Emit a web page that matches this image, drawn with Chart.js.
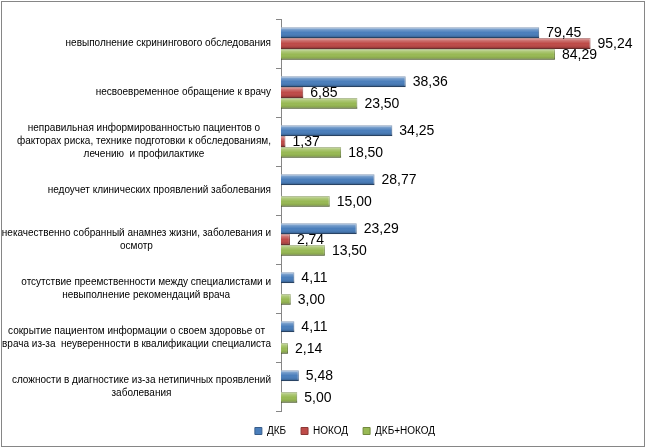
<!DOCTYPE html>
<html>
<head>
<meta charset="utf-8">
<script src="https://cdn.jsdelivr.net/npm/chart.js@4.4.0/dist/chart.umd.min.js"></script>
<style>
    body { margin: 0; background: #fff; }
    #wrap { width: 646px; height: 448px; }
</style>
</head>
<body>
<div id="wrap"><canvas id="chart" width="646" height="448"></canvas></div>
<script>
// Categories (multi-line labels as in the original)
const categories = [
    ['невыполнение скринингового обследования'],
    ['несвоевременное обращение к врачу'],
    ['неправильная информированностью пациентов о', 'факторах риска, технике подготовки к обследованиям,', 'лечению  и профилактике'],
    ['недоучет клинических проявлений заболевания'],
    ['некачественно собранный анамнез жизни, заболевания и', 'осмотр'],
    ['отсутствие преемственности между специалистами и', 'невыполнение рекомендаций врача'],
    ['сокрытие пациентом информации о своем здоровье от', 'врача из-за  неуверенности в квалификации специалиста'],
    ['сложности в диагностике из-за нетипичных проявлений', 'заболевания']
];

const seriesNames = ['ДКБ', 'НОКОД', 'ДКБ+НОКОД'];

const dkb = [79.45, 38.36, 34.25, 28.77, 23.29, 4.11, 4.11, 5.48];
const nokod = [95.24, 6.85, 1.37, null, 2.74, null, null, null];
const dkbNokod = [84.29, 23.50, 18.50, 15.00, 13.50, 3.00, 2.14, 5.00];

const LABEL_FONT = '10px "Liberation Sans", Arial, sans-serif';
const VALUE_FONT = '14px "Liberation Sans", Arial, sans-serif';

// Frame and white background
const framePlugin = {
    id: 'frame',
    beforeDraw(chart) {
        const c = chart.ctx;
        c.save();
        c.fillStyle = '#ffffff';
        c.fillRect(0, 0, chart.width, chart.height);
        c.strokeStyle = '#868686';
        c.lineWidth = 1;
        c.strokeRect(1.5, 1.5, 643, 445);
        c.restore();
    }
};

// Category labels: block right-aligned to the axis, lines centered inside the block
const categoryLabelPlugin = {
    id: 'categoryLabels',
    afterDraw(chart) {
        const c = chart.ctx;
        const yScale = chart.scales.y;
        const rightEdge = chart.chartArea.left - 10;
        const lineHeight = 13;
        c.save();
        c.font = LABEL_FONT;
        c.fillStyle = '#000';
        c.textAlign = 'center';
        c.textBaseline = 'middle';
        categories.forEach((lines, i) => {
            const yc = yScale.getPixelForTick(i);
            const blockW = Math.max(...lines.map(l => c.measureText(l).width));
            const cx = rightEdge - blockW / 2;
            const y0 = yc - (lines.length - 1) * lineHeight / 2;
            lines.forEach((l, k) => c.fillText(l, cx, y0 + k * lineHeight));
        });
        c.restore();
    }
};

// Bevel shading on bars + value labels
const barDecorPlugin = {
    id: 'barDecor',
    afterDatasetsDraw(chart) {
        const c = chart.ctx;
        c.save();
        chart.data.datasets.forEach((ds, di) => {
            const meta = chart.getDatasetMeta(di);
            meta.data.forEach((bar, i) => {
                if (ds.data[i] == null) return;
                const top = bar.y - bar.height / 2;
                const g = c.createLinearGradient(0, top, 0, top + bar.height);
                g.addColorStop(0, 'rgba(255,255,255,0.55)');
                g.addColorStop(0.25, 'rgba(255,255,255,0.2)');
                g.addColorStop(0.5, 'rgba(255,255,255,0)');
                g.addColorStop(0.8, 'rgba(0,0,0,0.08)');
                g.addColorStop(1, 'rgba(0,0,0,0.35)');
                c.fillStyle = g;
                c.fillRect(bar.base, top, bar.x - bar.base, bar.height);
            });
        });
        c.restore();
    },
    afterDraw(chart) {
        const c = chart.ctx;
        c.save();
        c.font = VALUE_FONT;
        c.fillStyle = '#000';
        c.textAlign = 'left';
        c.textBaseline = 'middle';
        chart.data.datasets.forEach((ds, di) => {
            const meta = chart.getDatasetMeta(di);
            meta.data.forEach((bar, i) => {
                const v = ds.data[i];
                if (v == null) return;
                c.fillText(v.toFixed(2).replace('.', ','), bar.x + 7, bar.y + 1);
            });
        });
        c.restore();
    }
};

const ctx = document.getElementById('chart').getContext('2d');

new Chart(ctx, {
    type: 'bar',
    data: {
        labels: categories,
        datasets: [
            {
                label: seriesNames[0],
                data: dkb,
                backgroundColor: '#4A7EBB',
                borderColor: '#385D8A',
                borderWidth: 1
            },
            {
                label: seriesNames[1],
                data: nokod,
                backgroundColor: '#BE4B48',
                borderColor: '#8C3836',
                borderWidth: 1
            },
            {
                label: seriesNames[2],
                data: dkbNokod,
                backgroundColor: '#98B954',
                borderColor: '#71893F',
                borderWidth: 1
            }
        ]
    },
    options: {
        indexAxis: 'y',
        responsive: false,
        animation: false,
        devicePixelRatio: 1,
        categoryPercentage: 0.665,
        barPercentage: 1,
        layout: {
            padding: { top: 19, right: 40, bottom: 2, left: 84 }
        },
        scales: {
            x: {
                display: false,
                min: 0,
                max: 100
            },
            y: {
                ticks: { display: false },
                grid: {
                    drawOnChartArea: false,
                    tickLength: 5,
                    color: '#868686'
                },
                border: { display: true, color: '#868686' },
                afterFit(scale) {
                    scale.width = 281 - 84;
                }
            }
        },
        plugins: {
            legend: {
                position: 'bottom',
                labels: {
                    boxWidth: 7,
                    boxHeight: 7,
                    padding: 15,
                    color: '#000',
                    font: { family: '"Liberation Sans", Arial, sans-serif', size: 10 }
                }
            },
            tooltip: { enabled: false }
        }
    },
    plugins: [framePlugin, categoryLabelPlugin, barDecorPlugin]
});
</script>
</body>
</html>
